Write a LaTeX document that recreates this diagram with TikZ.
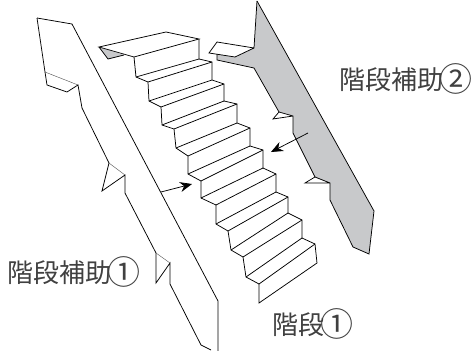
\documentclass[tikz,border=0pt]{standalone}
\usepackage{fontspec}
\newfontfamily\cjk{Noto Sans CJK JP}
\definecolor{panel}{HTML}{C8C9CB}
\newcommand{\circnum}[1]{\hspace{-3.5pt}\raisebox{-2.5pt}{\fontsize{33}{33}\selectfont #1}}
\usetikzlibrary{arrows.meta}
\tikzset{
  ln/.style={draw=black,line width=0.75pt,line join=miter},
  thin ln/.style={draw=black!70,line width=0.4pt},
  lab/.style={font=\cjk\fontsize{26}{26}\selectfont,text=black!75,inner sep=0pt,anchor=west},
  pointer/.style={draw=black,line width=0.75pt,-{Stealth[length=12pt,width=10pt]}}
}
\begin{document}
\begin{tikzpicture}[x=1pt,y=-1pt]
\useasboundingbox (0,0) rectangle (472,351);
% left panel
\draw[ln] (37,18)--(72,24)--(218,301)--(218,351);
\draw[ln] (37,18)--(45,72)--(47,85)--(67,92)--(78,85)--(82,108)--(109,163)--(102,191)--(125,175)--(125,193)--(156,253)--(156,283)--(170,263)--(170,284)--(201,345)--(211,350);
\draw[thin ln] (45,72)--(78,85);
\draw[thin ln] (109,163)--(125,175);
\draw[thin ln] (156,253)--(170,263);
% right panel
\fill[panel] (257,1)--(374,211)--(369,254)--(353,247)--(330,200)--(330,183)--(315,177)--(293,133)--(293,116)--(279,112)--(254,68)--(217,60)--(217,54)--(235,57)--(254,48)--cycle;
\draw[ln] (257,1)--(374,211)--(369,254)--(353,247)--(330,200)--(330,183)--(315,177)--(305,183)--(330,183);
\draw[ln] (315,177)--(293,133)--(293,116)--(273,119)--(279,112)--(293,116);
\draw[ln] (279,112)--(254,68)--(217,60)--(217,54);
\draw[ln] (257,1)--(254,48)--(217,42)--(209,53)--(235,57)--(254,48);
% stair tip
\fill[panel] (99,47)--(108,59)--(124,55)--cycle;
\draw[ln] (99,47)--(108,59)--(124,55);
% stairs
\draw[ln] (134,57)--(99,47)--(166,32)--(199,39)--cycle;
\draw[ln] (134,57)--(136,77)--(148,82)--(149,101)--(161,107)--(162,125)--(174,129)--(176,148)--(188,156)--(188,174)--(201,181)--(201,198)--(216,205)--(216,224)--(228,231)--(231,250)--(243,257)--(246,277)--(259,284)--(259,303)--(317,263)--(315,244)--(302,238)--(302,220)--(288,213)--(288,197)--(276,192)--(276,174)--(263,168)--(263,150)--(250,146)--(250,128)--(237,123)--(237,104)--(224,101)--(224,84)--(212,80)--(212,62)--(199,59)--(199,39);
\draw[ln] (136,77)--(199,59) (148,82)--(212,62) (149,101)--(212,80) (161,107)--(224,84) (162,125)--(224,101) (174,129)--(237,104) (176,148)--(237,123) (188,156)--(250,128) (188,174)--(250,146) (201,181)--(263,150) (201,198)--(263,168) (216,205)--(276,174) (216,224)--(276,192) (228,231)--(288,197) (231,250)--(288,213) (243,257)--(302,220) (246,277)--(302,238) (259,284)--(315,244);
% arrows
\coordinate (a1s) at (161,192); \coordinate (a1e) at (192,184);
\coordinate (a2s) at (308,133); \coordinate (a2e) at (271,152);
\draw[pointer] (a1s)--(a1e);
\draw[pointer] (a2s)--(a2e);
% labels
\node[lab] (l1) at (339,79) {階段補助\circnum{②}};
\node[lab] (l2) at (7,272) {階段補助\circnum{①}};
\node[lab] (l3) at (272,324) {階段\circnum{①}};
\end{tikzpicture}
\end{document}
